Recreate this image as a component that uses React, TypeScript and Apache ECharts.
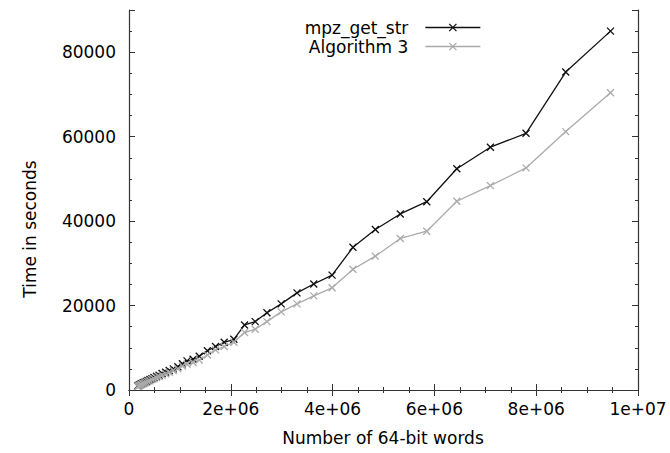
import React, { useEffect, useRef } from "react";
import * as echarts from "echarts";

const words = [
  170000, 190000, 210000, 230000, 250000, 280000, 310000, 340000, 370000, 410000,
  450000, 490000, 540000, 590000, 650000, 720000, 790000, 870000, 960000, 1050000,
  1140000, 1260000, 1380000, 1540000, 1700000, 1870000, 2060000, 2270000, 2480000, 2710000,
  2990000, 3300000, 3630000, 3990000, 4400000, 4840000, 5330000, 5850000, 6440000, 7100000,
  7800000, 8580000, 9460000,
];
const mpzGetStr = [
  950, 1100, 1250, 1400, 1500, 1700, 1850, 2050, 2250, 2500,
  2700, 2950, 3250, 3500, 3900, 4200, 4600, 5000, 5500, 6200,
  6900, 7300, 8000, 9300, 10300, 11300, 12000, 15400, 16200, 18300,
  20400, 23000, 25100, 27200, 33800, 38000, 41700, 44600, 52400, 57500,
  60800, 75300, 85000,
];
const algorithm3 = [
  850, 950, 1100, 1200, 1300, 1500, 1650, 1800, 2000, 2200,
  2450, 2650, 2950, 3200, 3500, 3850, 4200, 4600, 5050, 5700,
  6100, 6500, 7100, 8300, 9500, 10300, 11300, 13600, 14400, 16200,
  18500, 20400, 22300, 24200, 28600, 31700, 35900, 37600, 44700, 48400,
  52600, 61200, 70400,
];
const seriesNames = ["mpz_get_str", "Algorithm 3"];
const xLabel = "Number of 64-bit words";
const yLabel = "Time in seconds";

const FONT = "DejaVu Sans";
const FS = 17;
const AXIS_COLOR = "#333";
const CROSS = "path://M0 0L10 10M10 0L0 10";

function fmtX(v: number): string {
  if (v === 0) return "0";
  const e = Math.floor(Math.log10(v) + 1e-9);
  const m = Math.round(v / Math.pow(10, e));
  return `${m}e+${e < 10 ? "0" + e : e}`;
}

export default function App() {
  const ref = useRef<HTMLDivElement>(null);
  useEffect(() => {
    document.body.style.margin = "0";
    if (!ref.current) return;
    const chart = echarts.init(ref.current, undefined, { renderer: "svg" });
    const lineAxis = { show: true, lineStyle: { color: AXIS_COLOR, width: 1.2 } };
    const xBase = {
      type: "value" as const,
      min: 0,
      max: 10000000,
      interval: 2000000,
      splitLine: { show: false },
      axisLine: lineAxis,
      axisTick: { show: true, inside: true, length: 6, lineStyle: { color: AXIS_COLOR } },
      minorTick: { show: true, splitNumber: 4, length: 3, lineStyle: { color: AXIS_COLOR } },
    };
    const yFine = {
      type: "value" as const,
      min: 0,
      max: 90000,
      interval: 5000,
      splitLine: { show: false },
      axisLine: lineAxis,
      axisTick: { show: true, inside: true, length: 3, lineStyle: { color: AXIS_COLOR } },
    };
    const yMajor = {
      type: "value" as const,
      min: 0,
      max: 90000,
      interval: 20000,
      splitLine: { show: false },
      axisLine: { show: false },
      axisLabel: { show: false },
      axisTick: { show: true, inside: true, length: 6, lineStyle: { color: AXIS_COLOR } },
    };
    const mk = (name: string, ys: number[], color: string) => ({
      name,
      type: "line" as const,
      xAxisIndex: 0,
      yAxisIndex: 0,
      data: words.map((w, i) => [w, ys[i]]),
      symbol: CROSS,
      symbolSize: 7,
      showAllSymbol: true,
      lineStyle: { color, width: 1.3 },
      itemStyle: { color, borderColor: color, borderWidth: 1.3 },
    });
    chart.setOption({
      animation: false,
      backgroundColor: "#fff",
      textStyle: { fontFamily: FONT },
      grid: { left: 129, right: 32, top: 10, bottom: 63, containLabel: false },
      legend: {
        orient: "vertical",
        align: "right",
        right: 184,
        top: 14,
        itemWidth: 55,
        itemHeight: 9,
        itemGap: 2,
        data: seriesNames,
        lineStyle: { width: 1.3 },
        itemStyle: { borderWidth: 1.3 },
        textStyle: { fontFamily: FONT, fontSize: FS, color: "#000", padding: [0, 12, 0, 0] },
      },
      xAxis: [
        {
          ...xBase,
          position: "bottom",
          axisLabel: { show: true, margin: 10, fontFamily: FONT, fontSize: FS, color: "#000", formatter: fmtX },
        },
        { ...xBase, position: "top", axisLabel: { show: false } },
      ],
      yAxis: [
        {
          ...yFine,
          position: "left",
          axisLabel: {
            show: true,
            margin: 13,
            fontFamily: FONT,
            fontSize: FS,
            color: "#000",
            formatter: (v: number) => (v % 20000 === 0 && v <= 80000 ? String(v) : ""),
          },
        },
        { ...yMajor, position: "left" },
        { ...yFine, position: "right", axisLabel: { show: false } },
        { ...yMajor, position: "right" },
      ],
      series: [mk(seriesNames[0], mpzGetStr, "#111"), mk(seriesNames[1], algorithm3, "#aaa")],
      graphic: [
        {
          type: "text",
          x: 383,
          y: 438,
          style: { text: xLabel, fontFamily: FONT, fontSize: FS, fill: "#000", align: "center", verticalAlign: "middle" },
        },
        {
          type: "text",
          x: 30,
          y: 229,
          rotation: Math.PI / 2,
          style: { text: yLabel, fontFamily: FONT, fontSize: FS, fill: "#000", align: "center", verticalAlign: "middle" },
        },
      ],
    });
    return () => chart.dispose();
  }, []);
  return <div ref={ref} style={{ width: 670, height: 453 }} />;
}
